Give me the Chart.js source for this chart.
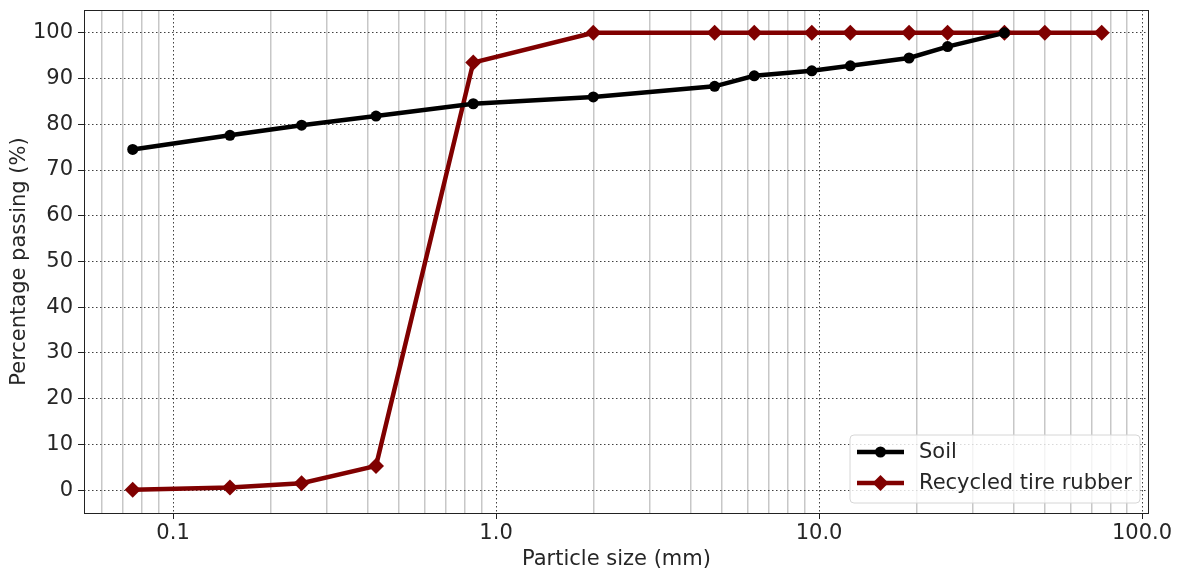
<!DOCTYPE html>
<html>
<head>
<meta charset="utf-8">
<script src="https://cdn.jsdelivr.net/npm/chart.js@4.4.1/dist/chart.umd.min.js"></script>
<style>
  html, body { margin: 0; padding: 0; background: #fff; }
  #wrap { width: 1178px; height: 572px; }
</style>
</head>
<body>
<div id="wrap"><canvas id="gradation" width="1178" height="572"></canvas></div>
<script>
//Sieve sizes (mm) and percentage passing
const soilSizes = [0.075, 0.15, 0.25, 0.425, 0.85, 2.0, 4.75, 6.3, 9.5, 12.5, 19, 25, 37.5];
const soilPassing = [74.5, 77.6, 79.8, 81.8, 84.5, 86.0, 88.3, 90.6, 91.7, 92.8, 94.5, 97.0, 100];

const rubberSizes = [0.075, 0.15, 0.25, 0.425, 0.85, 2.0, 4.75, 6.3, 9.5, 12.5, 19, 25, 37.5, 50, 75];
const rubberPassing = [0.1, 0.6, 1.5, 5.3, 93.5, 100, 100, 100, 100, 100, 100, 100, 100, 100, 100];

//Axis ticks
const majorTicks = [0.1, 1, 10, 100];
const minorTicks = [0.06, 0.07, 0.08, 0.09, 0.2, 0.3, 0.4, 0.5, 0.6, 0.7, 0.8, 0.9,
  2, 3, 4, 5, 6, 7, 8, 9, 20, 30, 40, 50, 60, 70, 80, 90];
const yTicks = [0, 10, 20, 30, 40, 50, 60, 70, 80, 90, 100];

const FONT = "'DejaVu Sans', sans-serif";
const TEXT = "#262626";
const RUBBER = "#800000";
const FONT_SIZE = 21;

//Combine x and y arrays into points
function toPoints(xs, ys) {
  return xs.map((x, i) => ({ x: x, y: ys[i] }));
}

//Legend drawn inside the plot, bottom right
const insideLegend = {
  id: "insideLegend",
  afterDraw(chart) {
    const ctx = chart.ctx;
    const area = chart.chartArea;
    const w = 290, h = 68;
    const x = area.right - 9 - w;
    const y = area.bottom - 10 - h;
    ctx.save();
    ctx.beginPath();
    ctx.roundRect(x, y, w, h, 4);
    ctx.fillStyle = "rgba(255,255,255,0.8)";
    ctx.fill();
    ctx.strokeStyle = "#d6d6d6";
    ctx.lineWidth = 1;
    ctx.stroke();
    chart.data.datasets.forEach((ds, i) => {
      const cy = y + 17 + i * 31;
      ctx.strokeStyle = ds.borderColor;
      ctx.lineWidth = ds.borderWidth;
      ctx.beginPath();
      ctx.moveTo(x + 7, cy);
      ctx.lineTo(x + 54, cy);
      ctx.stroke();
      ctx.fillStyle = ds.pointBackgroundColor;
      ctx.beginPath();
      if (ds.pointStyle === "rectRot") {
        const r = ds.pointRadius;
        ctx.moveTo(x + 30.5, cy - r);
        ctx.lineTo(x + 30.5 + r, cy);
        ctx.lineTo(x + 30.5, cy + r);
        ctx.lineTo(x + 30.5 - r, cy);
        ctx.closePath();
      } else {
        ctx.arc(x + 30.5, cy, ds.pointRadius, 0, Math.PI * 2);
      }
      ctx.fill();
      ctx.fillStyle = TEXT;
      ctx.font = FONT_SIZE + "px " + FONT;
      ctx.textBaseline = "middle";
      ctx.fillText(ds.label, x + 69, cy + 1);
    });
    ctx.restore();
  },
};

//Frame around the plot area
const frame = {
  id: "frame",
  afterDatasetsDraw(chart) {
    const a = chart.chartArea;
    const ctx = chart.ctx;
    ctx.save();
    ctx.strokeStyle = "#222";
    ctx.lineWidth = 1;
    ctx.strokeRect(a.left + 0.5, a.top + 0.5, a.right - a.left - 1, a.bottom - a.top);
    ctx.restore();
  },
};

const config = {
  type: "line",
  data: {
    datasets: [
      {
        label: "Soil",
        data: toPoints(soilSizes, soilPassing),
        borderColor: "#000000",
        backgroundColor: "#000000",
        pointBackgroundColor: "#000000",
        pointBorderColor: "#000000",
        borderWidth: 4.5,
        pointStyle: "circle",
        pointRadius: 5.5,
        pointBorderWidth: 0,
        tension: 0,
        xAxisID: "x",
        yAxisID: "y",
      },
      {
        label: "Recycled tire rubber",
        data: toPoints(rubberSizes, rubberPassing),
        borderColor: RUBBER,
        backgroundColor: RUBBER,
        pointBackgroundColor: RUBBER,
        pointBorderColor: RUBBER,
        borderWidth: 4.5,
        pointStyle: "rectRot",
        pointRadius: 8,
        pointBorderWidth: 0,
        tension: 0,
        xAxisID: "x",
        yAxisID: "y",
      },
    ],
  },
  options: {
    responsive: false,
    animation: false,
    layout: { padding: { left: 0, top: 10, right: 29, bottom: 0 } },
    plugins: {
      legend: { display: false },
      tooltip: { enabled: false },
    },
    scales: {
      x: {
        type: "logarithmic",
        position: "bottom",
        min: 0.053,
        max: 105.1,
        afterBuildTicks: (scale) => {
          scale.ticks = majorTicks.map((v) => ({ value: v, major: true }));
        },
        afterFit: (scale) => {
          scale.height = 59;
          scale.paddingLeft = 0;
          scale.paddingRight = 0;
        },
        ticks: {
          autoSkip: false,
          maxRotation: 0,
          padding: 2,
          color: TEXT,
          font: { family: FONT, size: FONT_SIZE },
          callback: (value) => Number(value).toFixed(1),
        },
        grid: {
          color: "rgba(0,0,0,0.75)",
          lineWidth: 1,
          drawTicks: true,
          tickLength: 6,
          tickColor: "#222",
          tickBorderDash: [],
        },
        border: { display: false, dash: [1.5, 2.5] },
        title: {
          display: true,
          text: "Particle size (mm)",
          color: TEXT,
          font: { family: FONT, size: FONT_SIZE },
          padding: { top: 0, bottom: 0 },
        },
      },
      xMinor: {
        type: "logarithmic",
        position: "top",
        min: 0.053,
        max: 105.1,
        afterBuildTicks: (scale) => {
          scale.ticks = minorTicks.map((v) => ({ value: v }));
        },
        afterFit: (scale) => {
          scale.height = 0;
        },
        ticks: { display: false },
        grid: {
          color: "rgba(0,0,0,0.22)",
          lineWidth: 1.5,
          drawTicks: false,
          z: -1,
        },
        border: { display: false },
      },
      y: {
        type: "linear",
        position: "left",
        min: -5,
        max: 105,
        afterBuildTicks: (scale) => {
          scale.ticks = yTicks.map((v) => ({ value: v }));
        },
        afterFit: (scale) => {
          scale.width = 84;
          scale.paddingTop = 0;
          scale.paddingBottom = 0;
        },
        ticks: {
          padding: 5,
          color: TEXT,
          font: { family: FONT, size: FONT_SIZE },
        },
        grid: {
          color: "rgba(0,0,0,0.75)",
          lineWidth: 1,
          drawTicks: true,
          tickLength: 6,
          tickColor: "#222",
          tickBorderDash: [],
        },
        border: { display: false, dash: [1.5, 2.5] },
        title: {
          display: true,
          text: "Percentage passing (%)",
          color: TEXT,
          font: { family: FONT, size: FONT_SIZE },
          padding: { top: 7, bottom: 4 },
        },
      },
    },
  },
  plugins: [insideLegend, frame],
};

const gradationChart = new Chart(document.getElementById("gradation"), config);
</script>
</body>
</html>
